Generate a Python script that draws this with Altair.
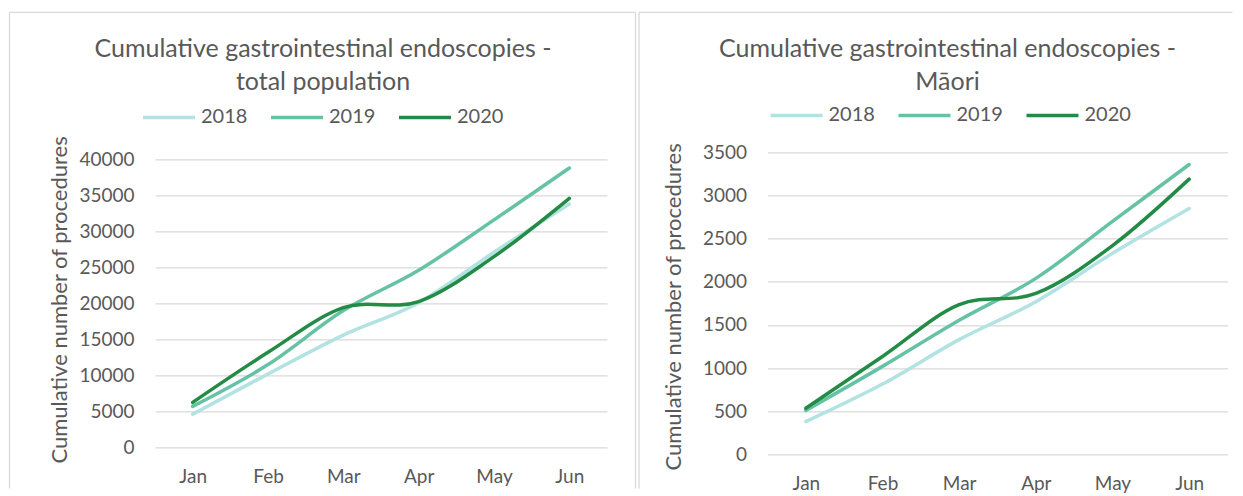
import altair as alt
import pandas as pd

months = ["Jan", "Feb", "Mar", "Apr", "May", "Jun"]
years = ["2018", "2019", "2020"]
colors = ["#b2e2e2", "#66c2a4", "#238b45"]

total_2018 = [4600, 10200, 15600, 20100, 27100, 33800]
total_2019 = [5700, 11500, 19000, 24600, 31600, 38800]
total_2020 = [6250, 13200, 19400, 20250, 26500, 34600]

maori_2018 = [380, 815, 1330, 1770, 2330, 2850]
maori_2019 = [510, 1020, 1555, 2040, 2700, 3360]
maori_2020 = [535, 1135, 1735, 1865, 2420, 3190]

title_total = ["Cumulative gastrointestinal endoscopies -", "total population"]
title_maori = ["Cumulative gastrointestinal endoscopies -", "Māori"]
y_title = "Cumulative number of procedures"

total_ticks = [0, 5000, 10000, 15000, 20000, 25000, 30000, 35000, 40000]
maori_ticks = [0, 500, 1000, 1500, 2000, 2500, 3000, 3500]

TEXT = "#595959"
GRID = "#d9d9d9"
FONT = "Lato"


def frame(series):
    rows = []
    for yr, vals in zip(years, series):
        for m, v in zip(months, vals):
            rows.append({"month": m, "year": yr, "value": v})
    return pd.DataFrame(rows)


def panel(series, ticks, titles, w, h, lay):
    df = frame(series)
    lines = alt.Chart(df).mark_line(
        interpolate="cardinal", strokeWidth=3.5, strokeCap="round"
    ).encode(
        x=alt.X("month:N", sort=months, title=None,
                scale=alt.Scale(type="point", padding=0.5),
                axis=alt.Axis(labelAngle=0, labelPadding=lay["xlabpad"], grid=False,
                              domain=False, ticks=False, tickSize=0)),
        y=alt.Y("value:Q", title=y_title,
                scale=alt.Scale(domain=[ticks[0], ticks[-1]], nice=False, zero=True,
                                range=[h, lay["ytop"]]),
                axis=alt.Axis(values=ticks, grid=True, domain=False, ticks=False,
                              tickSize=0, labelPadding=21, format="d",
                              titleAngle=-90, titleX=lay["tx"], titleY=lay["ty"],
                              titleAlign="center", titleBaseline="middle")),
        color=alt.Color("year:N", scale=alt.Scale(domain=years, range=colors),
                        legend=alt.Legend(title=None, orient="none", direction="horizontal",
                                          legendX=lay["lx"], legendY=lay["ly"],
                                          symbolType="stroke", symbolSize=2704,
                                          symbolStrokeWidth=3.5, labelOffset=4,
                                          columnPadding=16, padding=0,
                                          labelFontSize=20, labelColor=TEXT,
                                          labelFont=FONT)),
    ).properties(width=w, height=h)

    layers = [lines]
    for line_text, ty in zip(titles, lay["title_y"]):
        layers.append(
            alt.Chart(pd.DataFrame({"t": [line_text]})).mark_text(
                fontSize=25, font=FONT, color=TEXT, align="center",
                baseline="alphabetic"
            ).encode(text="t:N", x=alt.value(lay["title_x"]), y=alt.value(ty))
        )
    bdf = pd.DataFrame({"k": [0]})
    for (x1, x2, y1, y2) in lay["borders"]:
        enc = dict(x=alt.value(x1), y=alt.value(y1))
        if x2 is not None:
            enc["x2"] = alt.value(x2)
        if y2 is not None:
            enc["y2"] = alt.value(y2)
        layers.append(
            alt.Chart(bdf).mark_rule(color=GRID, strokeWidth=1.3).encode(**enc)
        )
    return alt.layer(*layers)


left_layout = dict(
    xlabpad=20, ytop=7, tx=-96, ty=147, lx=-14, ly=-63,
    title_x=168, title_y=[-95, -62.5],
    borders=[(-145.5, 480.5, -140, None), (-145.5, None, -140, 336),
             (480.5, None, -140, 336)],
)
right_layout = dict(
    xlabpad=20, ytop=0, tx=-94, ty=154, lx=1, ly=-65,
    title_x=180, title_y=[-95, -62.5],
    borders=[(-128.5, 465, -140, None), (-128.5, None, -140, 336)],
)

left = panel([total_2018, total_2019, total_2020], total_ticks, title_total,
             452, 295, left_layout)
right = panel([maori_2018, maori_2019, maori_2020], maori_ticks, title_maori,
              460, 302, right_layout)

chart = alt.hconcat(left, right, spacing=0.5).resolve_scale(
    color="independent", y="independent", x="independent"
).resolve_legend(color="independent").properties(
    padding={"left": 0, "top": 3.4, "right": 0, "bottom": 0},
    background="white",
).configure_view(stroke=None).configure_axis(
    labelFont=FONT, titleFont=FONT, labelFontSize=19, titleFontSize=22,
    labelColor=TEXT, titleColor=TEXT, titleFontWeight="normal",
    gridColor=GRID, gridWidth=1.3,
)

chart.save("out.html", embed_options={"renderer": "svg", "actions": False})
